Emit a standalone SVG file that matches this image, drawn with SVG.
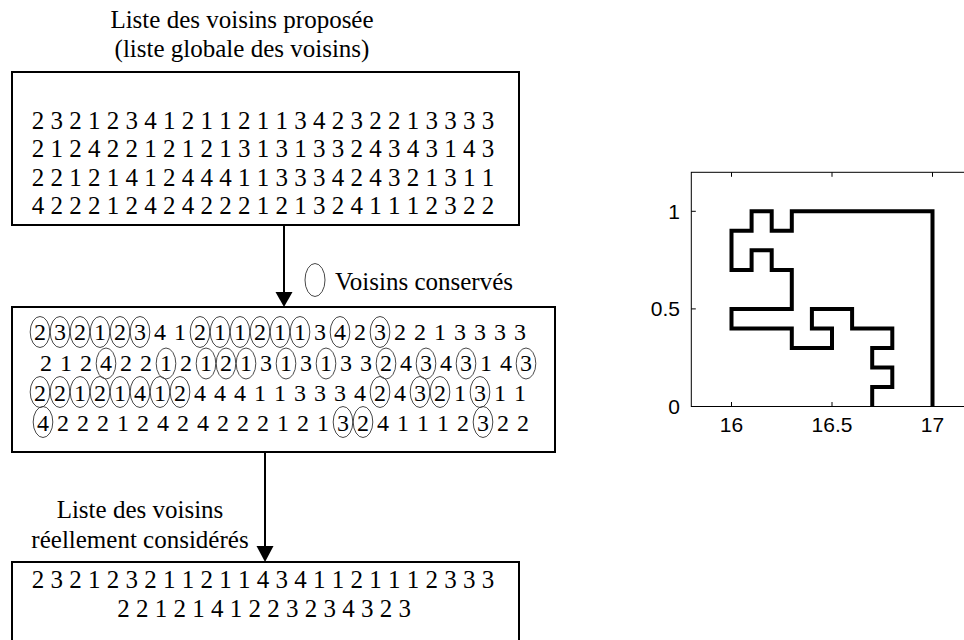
<svg xmlns="http://www.w3.org/2000/svg" width="964" height="640" viewBox="0 0 964 640">
<style>
.t{font-size:25px;fill:#000}
.d{font-size:24px;fill:#000;text-anchor:middle}
.box{fill:#fff;stroke:#000;stroke-width:2}
.c{fill:none;stroke:#333;stroke-width:0.9}
.ax{font-size:21px;fill:#000}
.mid{text-anchor:middle}
</style>
<rect width="964" height="640" fill="#fff"/>

<g font-family="Liberation Serif, Times New Roman, DejaVu Serif, serif">
<g id="title">
<text class="t mid" x="242" y="28">Liste des voisins proposée</text>
<text class="t mid" x="242" y="56.5">(liste globale des voisins)</text>
</g>

<g id="box-proposed">
<rect class="box" x="12" y="72" width="507" height="153"/>
<text class="t mid" x="263" y="128.5">2 3 2 1 2 3 4 1 2 1 1 2 1 1 3 4 2 3 2 2 1 3 3 3 3</text>
<text class="t mid" x="263" y="157">2 1 2 4 2 2 1 2 1 2 1 3 1 3 1 3 3 2 4 3 4 3 1 4 3</text>
<text class="t mid" x="263" y="185.5">2 2 1 2 1 4 1 2 4 4 4 1 1 3 3 3 4 2 4 3 2 1 3 1 1</text>
<text class="t mid" x="263" y="213.5">4 2 2 2 1 2 4 2 4 2 2 2 1 2 1 3 2 4 1 1 1 2 3 2 2</text>
</g>

<g id="legend">
<ellipse class="c" cx="315" cy="280" rx="10" ry="16.5"/>
<text class="t" x="335" y="290">Voisins conservés</text>
</g>

<g id="box-kept">
<rect class="box" x="12" y="307" width="543" height="145"/>
<text class="d" x="40 60 80 100 120 140 160 180 200 220 240 260 280 300 320 340 360 380 400 420 440 460 480 500 520" y="340">2321234121121134232213333</text>
<text class="d" x="46 66 86 106 126 146 166 186 206 226 246 266 286 306 326 346 366 386 406 426 446 466 486 506 526" y="370.5">2124221212131313324343143</text>
<text class="d" x="40 60 80 100 120 140 160 180 200 220 240 260 280 300 320 340 360 380 400 420 440 460 480 500 520" y="400.5">2212141244411333424321311</text>
<text class="d" x="43 63 83 103 123 143 163 183 203 223 243 263 283 303 323 343 363 383 403 423 443 463 483 503 523" y="431">4222124242221213241112322</text>
<g>
<ellipse class="c" cx="40" cy="332" rx="9.8" ry="15.5"/>
<ellipse class="c" cx="60" cy="332" rx="9.8" ry="15.5"/>
<ellipse class="c" cx="80" cy="332" rx="9.8" ry="15.5"/>
<ellipse class="c" cx="100" cy="332" rx="9.8" ry="15.5"/>
<ellipse class="c" cx="120" cy="332" rx="9.8" ry="15.5"/>
<ellipse class="c" cx="140" cy="332" rx="9.8" ry="15.5"/>
<ellipse class="c" cx="200" cy="332" rx="9.8" ry="15.5"/>
<ellipse class="c" cx="220" cy="332" rx="9.8" ry="15.5"/>
<ellipse class="c" cx="240" cy="332" rx="9.8" ry="15.5"/>
<ellipse class="c" cx="260" cy="332" rx="9.8" ry="15.5"/>
<ellipse class="c" cx="280" cy="332" rx="9.8" ry="15.5"/>
<ellipse class="c" cx="300" cy="332" rx="9.8" ry="15.5"/>
<ellipse class="c" cx="340" cy="332" rx="9.8" ry="15.5"/>
<ellipse class="c" cx="380" cy="332" rx="9.8" ry="15.5"/>

<ellipse class="c" cx="106" cy="363.5" rx="9.8" ry="15.5"/>
<ellipse class="c" cx="166" cy="363.5" rx="9.8" ry="15.5"/>
<ellipse class="c" cx="206" cy="363.5" rx="9.8" ry="15.5"/>
<ellipse class="c" cx="226" cy="363.5" rx="9.8" ry="15.5"/>
<ellipse class="c" cx="246" cy="363.5" rx="9.8" ry="15.5"/>
<ellipse class="c" cx="286" cy="363.5" rx="9.8" ry="15.5"/>
<ellipse class="c" cx="326" cy="363.5" rx="9.8" ry="15.5"/>
<ellipse class="c" cx="386" cy="363.5" rx="9.8" ry="15.5"/>
<ellipse class="c" cx="426" cy="363.5" rx="9.8" ry="15.5"/>
<ellipse class="c" cx="466" cy="363.5" rx="9.8" ry="15.5"/>
<ellipse class="c" cx="526" cy="363.5" rx="9.8" ry="15.5"/>

<ellipse class="c" cx="40" cy="392" rx="9.8" ry="15.5"/>
<ellipse class="c" cx="60" cy="392" rx="9.8" ry="15.5"/>
<ellipse class="c" cx="80" cy="392" rx="9.8" ry="15.5"/>
<ellipse class="c" cx="100" cy="392" rx="9.8" ry="15.5"/>
<ellipse class="c" cx="120" cy="392" rx="9.8" ry="15.5"/>
<ellipse class="c" cx="140" cy="392" rx="9.8" ry="15.5"/>
<ellipse class="c" cx="160" cy="392" rx="9.8" ry="15.5"/>
<ellipse class="c" cx="180" cy="392" rx="9.8" ry="15.5"/>
<ellipse class="c" cx="380" cy="392" rx="9.8" ry="15.5"/>
<ellipse class="c" cx="420" cy="392" rx="9.8" ry="15.5"/>
<ellipse class="c" cx="440" cy="392" rx="9.8" ry="15.5"/>
<ellipse class="c" cx="480" cy="392" rx="9.8" ry="15.5"/>

<ellipse class="c" cx="43" cy="422" rx="9.8" ry="15.5"/>
<ellipse class="c" cx="343" cy="422" rx="9.8" ry="15.5"/>
<ellipse class="c" cx="363" cy="422" rx="9.8" ry="15.5"/>
<ellipse class="c" cx="483" cy="422" rx="9.8" ry="15.5"/>
</g>
</g>

<g id="label-considered">
<text class="t mid" x="140" y="518">Liste des voisins</text>
<text class="t mid" x="140" y="548">réellement considérés</text>
</g>

<g id="box-considered">
<rect class="box" x="12" y="562" width="507" height="90"/>
<text class="t mid" x="263" y="588">2 3 2 1 2 3 2 1 1 2 1 1 4 3 4 1 1 2 1 1 1 2 3 3 3</text>
<text class="t mid" x="264" y="617">2 2 1 2 1 4 1 2 2 3 2 3 4 3 2 3</text>
</g>
</g>

<g id="connectors" stroke="#000" stroke-width="2" fill="#000">
<line x1="284" y1="225" x2="284" y2="293"/>
<polygon points="275.5,292 292.5,292 284,307" stroke="none"/>
<line x1="265" y1="452" x2="265" y2="547"/>
<polygon points="256.5,546 273.5,546 265,562" stroke="none"/>
</g>

<g id="plot" font-family="Liberation Sans, Arial, sans-serif">
<rect x="691.3" y="172.3" width="282" height="234.2" fill="none" stroke="#000" stroke-width="1"/>
<g stroke="#000" stroke-width="1">
<line x1="731.5" y1="406.5" x2="731.5" y2="402"/>
<line x1="832" y1="406.5" x2="832" y2="402"/>
<line x1="932.5" y1="406.5" x2="932.5" y2="402"/>
<line x1="731.5" y1="172.3" x2="731.5" y2="176.8"/>
<line x1="832" y1="172.3" x2="832" y2="176.8"/>
<line x1="932.5" y1="172.3" x2="932.5" y2="176.8"/>
<line x1="691.3" y1="211.3" x2="695.8" y2="211.3"/>
<line x1="691.3" y1="308.9" x2="695.8" y2="308.9"/>
<line x1="691.3" y1="406.5" x2="695.8" y2="406.5"/>
</g>
<path d="M872.2,406.5 V387 H892.3 V367.5 H872.2 V347.9 H892.3 V328.4 H852.1 V308.9 H811.9 V328.4 H832 V347.9 H791.8 V328.4 H731.5 V308.9 H791.8 V269.9 H771.7 V250.3 H751.6 V269.9 H731.5 V230.8 H751.6 V211.3 H771.7 V230.8 H791.8 V211.3 H932.5 V406.5" fill="none" stroke="#000" stroke-width="4" stroke-linejoin="miter"/>
<text class="ax mid" x="731.5" y="431.5">16</text>
<text class="ax mid" x="832" y="431.5">16.5</text>
<text class="ax mid" x="932.5" y="431.5">17</text>
<text class="ax" x="680" y="218.8" text-anchor="end">1</text>
<text class="ax" x="680" y="316.4" text-anchor="end">0.5</text>
<text class="ax" x="680" y="414" text-anchor="end">0</text>
</g>
</svg>
